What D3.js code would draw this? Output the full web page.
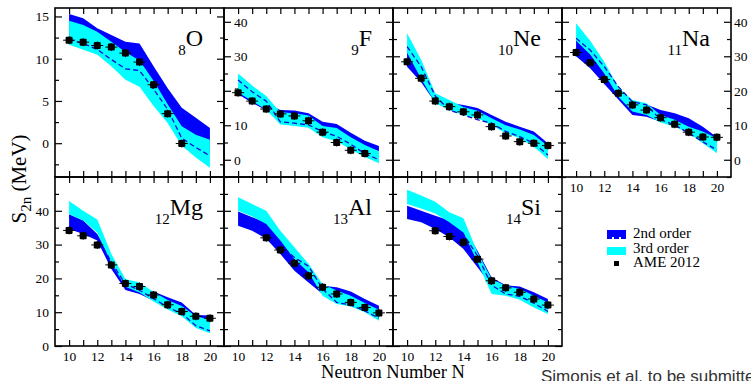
<!DOCTYPE html>
<html>
<head>
<meta charset="utf-8">
<script src="https://cdn.jsdelivr.net/npm/d3@7"></script>
<style>
  body { margin: 0; background: #fff; }
  svg { display: block; font-family: "Liberation Serif", "Times New Roman", serif; }
</style>
</head>
<body>
<svg id="chart" width="751" height="381"></svg>
<script>
// Neutron numbers shared by every panel
const neutrons = [10, 11, 12, 13, 14, 15, 16, 17, 18, 19, 20];

// Two-neutron separation energies S2n (MeV)
// AME 2012 values, 2nd-order band (lo/hi), 3rd-order band (lo/hi), dashed curve
const oAme   = [12.19, 11.96, 11.56, 11.37, 10.66, 9.6, 6.92, 3.5, -0.04, null, null];
const o2ndLo = [12.0, 11.5, 11.0, 10.0, 8.7, 8.5, 6.0, 3.8, 0.8, -0.5, -1.3];
const o2ndHi = [15.3, 14.8, 13.6, 12.8, 12.0, 11.8, 9.1, 6.5, 4.2, 3.0, 1.8];
const o3rdLo = [11.65, 11.06, 10.47, 9.1, 7.5, 6.67, 4.4, 2.4, -0.3, -1.7, -2.9];
const o3rdHi = [14.5, 14.0, 13.2, 12.0, 10.8, 9.8, 7.4, 4.6, 2.0, 1.0, 0.4];
const oDash  = [12.3, 11.8, 11.1, 9.9, 8.8, 8.6, 6.4, 4.0, 0.6, -0.5, -1.5];

const fAme   = [19.45, 17.0, 14.7, 13.3, 12.7, 11.3, 8.0, 5.0, 2.75, 1.8, null];
const f2ndLo = [19.0, 16.5, 14.3, 12.5, 12.0, 11.5, 9.5, 8.5, 6.0, 4.0, 2.5];
const f2ndHi = [21.0, 18.5, 16.3, 14.4, 14.3, 13.5, 11.0, 10.4, 7.8, 5.5, 4.0];
const f3rdLo = [19.5, 17.0, 14.5, 10.2, 9.8, 9.3, 6.5, 5.4, 3.0, 0.8, -1.0];
const f3rdHi = [25.0, 21.5, 18.5, 13.8, 13.5, 12.8, 9.8, 9.2, 6.5, 4.3, 2.5];
const fDash  = [23.1, 19.7, 17.0, 11.0, 10.6, 10.1, 8.2, 6.8, 4.5, 1.8, 0.0];

const neAme   = [28.4, 23.6, 17.0, 15.4, 13.9, 13.0, 9.6, 6.9, 5.25, 4.8, 4.1];
const ne2ndLo = [27.0, 22.5, 16.5, 14.8, 13.5, 12.5, 10.5, 8.5, 7.0, 5.5, 3.0];
const ne2ndHi = [33.0, 26.0, 18.0, 16.5, 15.9, 15.0, 13.0, 11.0, 9.6, 8.2, 4.8];
const ne3rdLo = [31.0, 23.5, 16.4, 14.4, 13.0, 12.0, 10.1, 7.7, 6.2, 3.8, 0.2];
const ne3rdHi = [36.7, 29.0, 19.3, 17.3, 15.3, 14.2, 12.0, 10.0, 8.8, 7.2, 4.0];
const neDash  = [32.8, 27.0, 18.5, 14.4, 13.0, 11.6, 10.6, 8.2, 6.7, 4.8, 1.4];

const naAme   = [31.1, 28.1, 23.3, 19.3, 15.9, 14.4, 12.2, 10.3, 8.0, 6.6, 6.5];
const na2ndLo = [30.0, 26.5, 22.0, 17.5, 13.0, 12.5, 11.0, 10.0, 8.0, 6.0, 5.0];
const na2ndHi = [35.0, 31.0, 26.0, 20.0, 16.5, 16.0, 14.4, 13.5, 12.0, 9.6, 6.5];
const na3rdLo = [34.5, 30.5, 25.0, 18.3, 14.0, 13.0, 10.8, 9.6, 7.7, 4.8, 1.9];
const na3rdHi = [39.6, 34.5, 28.4, 21.0, 17.3, 16.4, 13.0, 11.6, 9.6, 8.2, 6.2];
const naDash  = [35.2, 31.8, 27.0, 21.2, 16.8, 15.9, 11.6, 10.1, 7.7, 5.2, 2.8];

const mgAme   = [34.2, 32.6, 29.9, 24.0, 18.5, 17.6, 15.1, 12.2, 10.2, 8.8, 8.2];
const mg2ndLo = [34.6, 33.1, 31.2, 22.8, 16.6, 15.4, 13.4, 11.9, 10.0, 8.5, 8.0];
const mg2ndHi = [39.0, 37.1, 33.1, 25.7, 17.5, 17.0, 16.1, 14.4, 12.9, 9.2, 9.0];
const mg3rdLo = [39.0, 37.1, 33.5, 24.5, 17.5, 15.8, 13.2, 10.8, 8.8, 5.3, 3.8];
const mg3rdHi = [42.9, 40.0, 37.4, 27.2, 19.8, 18.8, 16.0, 13.6, 11.8, 8.8, 7.8];
const mgDash  = [38.5, 35.6, 32.2, 24.8, 18.3, 16.5, 14.0, 11.5, 9.6, 6.0, 4.5];

const alAme   = [null, null, 32.0, 28.4, 24.5, 20.8, 17.4, 15.4, 12.9, 11.4, 9.8];
const al2ndLo = [35.6, 34.1, 31.7, 27.2, 22.3, 18.8, 15.4, 14.4, 12.9, 11.4, 10.0];
const al2ndHi = [39.8, 38.1, 36.6, 31.7, 26.2, 22.3, 17.8, 17.4, 16.1, 13.9, 11.9];
const al3rdLo = [40.0, 38.3, 36.1, 31.2, 25.7, 21.8, 14.9, 12.4, 11.7, 10.0, 7.5];
const al3rdHi = [44.0, 42.0, 40.0, 34.1, 29.2, 24.3, 18.3, 16.4, 14.9, 12.7, 10.7];
const alDash  = [37.5, 35.8, 33.0, 29.7, 26.2, 23.6, 16.9, 12.9, 12.1, 10.4, 8.2];

const siAme   = [null, null, 34.1, 32.4, 30.7, 25.7, 19.3, 17.2, 15.9, 13.9, 12.1];
const si2ndLo = [37.6, 36.6, 34.6, 32.2, 28.7, 23.3, 17.8, 16.9, 15.7, 13.9, 12.1];
const si2ndHi = [41.5, 40.0, 38.5, 37.1, 35.1, 28.2, 20.3, 18.0, 17.6, 15.9, 13.9];
const si3rdLo = [42.0, 40.7, 39.2, 36.6, 33.6, 24.8, 15.4, 14.9, 13.7, 11.4, 9.5];
const si3rdHi = [46.2, 44.5, 42.7, 39.6, 37.8, 27.7, 19.8, 17.8, 16.9, 14.9, 12.9];
const siDash  = [37.9, 37.2, 36.0, 35.1, 33.1, 26.7, 18.0, 15.4, 14.7, 12.7, 10.2];

// Axis ticks
const xTickValues  = neutrons;
const xTickLabels  = [10, 12, 14, 16, 18, 20];
const oMajor  = [0, 5, 10, 15];
const oMinor  = [-2.5, 2.5, 7.5, 12.5];
const topMajor = [0, 10, 20, 30, 40];
const topMinor = [-5, 5, 15, 25, 35];
const botMajor = [0, 10, 20, 30, 40];
const botMinor = [5, 15, 25, 35, 45];

const legendLabels = ["2nd order", "3rd order", "AME 2012"];

// Panel table: grid slot, element, y range and which tick labels are shown
const panels = [
  { row: 0, col: 0, z: "8",  el: "O",  dom: [-4, 16], major: oMajor,   minor: oMinor,   ame: oAme,  lo2: o2ndLo,  hi2: o2ndHi,  lo3: o3rdLo,  hi3: o3rdHi,  dash: oDash,  yLab: "outLeft" },
  { row: 0, col: 1, z: "9",  el: "F",  dom: [-5, 44], major: topMajor, minor: topMinor, ame: fAme,  lo2: f2ndLo,  hi2: f2ndHi,  lo3: f3rdLo,  hi3: f3rdHi,  dash: fDash,  yLab: "inLeft" },
  { row: 0, col: 2, z: "10", el: "Ne", dom: [-5, 44], major: topMajor, minor: topMinor, ame: neAme, lo2: ne2ndLo, hi2: ne2ndHi, lo3: ne3rdLo, hi3: ne3rdHi, dash: neDash, yLab: null },
  { row: 0, col: 3, z: "11", el: "Na", dom: [-5, 44], major: topMajor, minor: topMinor, ame: naAme, lo2: na2ndLo, hi2: na2ndHi, lo3: na3rdLo, hi3: na3rdHi, dash: naDash, yLab: "outRight", xLab: true },
  { row: 1, col: 0, z: "12", el: "Mg", dom: [0, 50],  major: botMajor, minor: botMinor, ame: mgAme, lo2: mg2ndLo, hi2: mg2ndHi, lo3: mg3rdLo, hi3: mg3rdHi, dash: mgDash, yLab: "outLeft", xLab: true },
  { row: 1, col: 1, z: "13", el: "Al", dom: [0, 50],  major: botMajor, minor: botMinor, ame: alAme, lo2: al2ndLo, hi2: al2ndHi, lo3: al3rdLo, hi3: al3rdHi, dash: alDash, yLab: null, xLab: true },
  { row: 1, col: 2, z: "14", el: "Si", dom: [0, 50],  major: botMajor, minor: botMinor, ame: siAme, lo2: si2ndLo, hi2: si2ndHi, lo3: si3rdLo, hi3: si3rdHi, dash: siDash, yLab: null, xLab: true }
];

const BLUE = "#0000ff", CYAN = "#00ffff", DASH = "#0a0ad8";
const gridLeft = 55, gridTop = 8, pw = 169, ph = 169;
const svg = d3.select("#chart");
const defs = svg.append("defs");

function drawPanel(p, i) {
  const x0 = gridLeft + p.col * pw, y0 = gridTop + p.row * ph;
  const x = d3.scaleLinear().domain([9, 21]).range([x0, x0 + pw]);
  const y = d3.scaleLinear().domain(p.dom).range([y0 + ph, y0]);
  const g = svg.append("g");

  defs.append("clipPath").attr("id", "clip" + i)
    .append("rect").attr("x", x0).attr("y", y0).attr("width", pw).attr("height", ph);

  // tick labels sit beneath the data
  const lab = g.append("g");
  if (p.yLab === "outLeft") {
    lab.append("g").attr("transform", `translate(${x0},0)`)
      .call(d3.axisLeft(y).tickValues(p.major).tickSize(0).tickPadding(6));
  } else if (p.yLab === "inLeft") {
    lab.append("g").attr("transform", `translate(${x0},0)`)
      .call(d3.axisRight(y).tickValues(p.major).tickSize(0).tickPadding(10));
  } else if (p.yLab === "outRight") {
    lab.append("g").attr("transform", `translate(${x0 + pw},0)`)
      .call(d3.axisRight(y).tickValues(p.major).tickSize(0).tickPadding(3));
  }
  if (p.xLab) {
    lab.append("g").attr("transform", `translate(0,${y0 + ph})`)
      .call(d3.axisBottom(x).tickValues(xTickLabels).tickSize(0).tickPadding(5));
  }
  lab.selectAll(".domain").remove();
  lab.selectAll("text").attr("font-family", "Liberation Serif").attr("font-size", 13.5).attr("fill", "#000");

  const data = neutrons.map((n, k) => ({
    n, ame: p.ame[k], lo2: p.lo2[k], hi2: p.hi2[k], lo3: p.lo3[k], hi3: p.hi3[k], dash: p.dash[k]
  }));

  const plot = g.append("g").attr("clip-path", `url(#clip${i})`);
  plot.append("path").datum(data)
    .attr("d", d3.area().x(d => x(d.n)).y0(d => y(d.lo2)).y1(d => y(d.hi2)))
    .attr("fill", BLUE);
  plot.append("path").datum(data)
    .attr("d", d3.area().x(d => x(d.n)).y0(d => y(d.lo3)).y1(d => y(d.hi3)))
    .attr("fill", CYAN);
  plot.append("path").datum(data)
    .attr("d", d3.line().x(d => x(d.n)).y(d => y(d.dash)))
    .attr("fill", "none").attr("stroke", DASH).attr("stroke-width", 1.3)
    .attr("stroke-dasharray", "5,3");

  const pts = plot.selectAll("g.pt").data(data.filter(d => d.ame !== null))
    .join("g").attr("class", "pt")
    .attr("transform", d => `translate(${x(d.n)},${y(d.ame)})`);
  pts.append("line").attr("x1", -6).attr("x2", 6).attr("stroke", "#000").attr("stroke-width", 1);
  pts.append("line").attr("y1", -4).attr("y2", 4).attr("stroke", "#000").attr("stroke-width", 1);
  pts.append("rect").attr("x", -3.5).attr("y", -3.5).attr("width", 7).attr("height", 7)
    .attr("rx", 1).attr("fill", "#000");

  // ticks on all four sides, pointing inward
  const tk = g.append("g");
  const addAxis = (axis, tx, ty) => {
    const a = tk.append("g").attr("transform", `translate(${tx},${ty})`).call(axis);
    a.selectAll("text").remove();
    a.select(".domain").remove();
  };
  addAxis(d3.axisBottom(x).tickValues(xTickValues).tickSize(-6).tickFormat(""), 0, y0 + ph);
  addAxis(d3.axisTop(x).tickValues(xTickValues).tickSize(-6).tickFormat(""), 0, y0);
  addAxis(d3.axisLeft(y).tickValues(p.major).tickSize(-7).tickFormat(""), x0, 0);
  addAxis(d3.axisRight(y).tickValues(p.major).tickSize(-7).tickFormat(""), x0 + pw, 0);
  addAxis(d3.axisLeft(y).tickValues(p.minor).tickSize(-4).tickFormat(""), x0, 0);
  addAxis(d3.axisRight(y).tickValues(p.minor).tickSize(-4).tickFormat(""), x0 + pw, 0);
  tk.selectAll("line").attr("stroke", "#000").attr("stroke-width", 1.2);

  g.append("rect").attr("x", x0).attr("y", y0).attr("width", pw).attr("height", ph)
    .attr("fill", "none").attr("stroke", "#000").attr("stroke-width", 1.6);

  // element label with proton-number subscript
  const t = g.append("text").attr("x", x0 + pw - 21).attr("y", y0 + 37.5)
    .attr("text-anchor", "end").attr("font-size", 24);
  t.append("tspan").attr("font-size", 15).attr("dy", 9).text(p.z);
  t.append("tspan").attr("dy", -9).text(p.el);
}

panels.forEach(drawPanel);

// axis titles
const yTitle = svg.append("text").attr("transform", "translate(26,179) rotate(-90)")
  .attr("text-anchor", "middle").attr("font-size", 21);
yTitle.append("tspan").text("S");
yTitle.append("tspan").attr("font-size", 15).attr("dy", 5).text("2n");
yTitle.append("tspan").attr("dy", -5).text(" (MeV)");

svg.append("text").attr("x", 393).attr("y", 378).attr("text-anchor", "middle")
  .attr("font-size", 18.5).text("Neutron Number N");

// legend
const lg = svg.append("g");
lg.append("rect").attr("x", 607).attr("y", 230).attr("width", 19).attr("height", 7).attr("fill", BLUE);
lg.append("line").attr("x1", 607).attr("x2", 626).attr("y1", 237.5).attr("y2", 237.5)
  .attr("stroke", BLUE).attr("stroke-width", 3).attr("stroke-dasharray", "5,2");
lg.append("rect").attr("x", 607).attr("y", 247).attr("width", 19).attr("height", 8).attr("fill", CYAN);
lg.append("rect").attr("x", 614).attr("y", 261).attr("width", 5).attr("height", 5).attr("fill", "#000");
lg.selectAll("text.lab").data(legendLabels).join("text").attr("class", "lab")
  .attr("x", 633).attr("y", (d, k) => 238 + k * 14.5).attr("font-size", 15).text(d => d);

// citation note
svg.append("text").attr("x", 541).attr("y", 382)
  .attr("font-family", "Liberation Sans, Arial, sans-serif").attr("font-size", 17)
  .attr("fill", "#333").text("Simonis et al. to be submitted");
</script>
</body>
</html>
